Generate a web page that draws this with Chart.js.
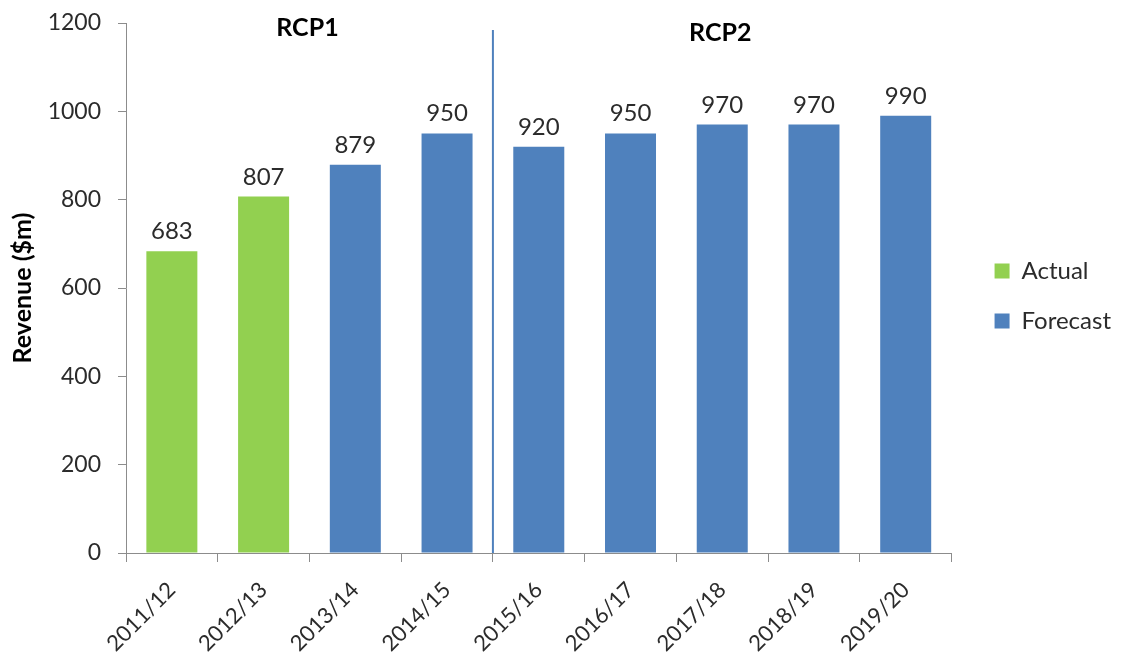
<!DOCTYPE html>
<html>
<head>
<meta charset="utf-8">
<script src="https://cdn.jsdelivr.net/npm/chart.js@4"></script>
<style>
  html, body { margin: 0; padding: 0; background: #fff; }
  #wrap { width: 1121px; height: 656px; position: relative; }
</style>
</head>
<body>
<div id="wrap"><canvas id="chart"></canvas></div>
<script>
// Financial years shown on the category axis
const categories = ['2011/12', '2012/13', '2013/14', '2014/15', '2015/16', '2016/17', '2017/18', '2018/19', '2019/20'];
// Revenue in $m: recorded results and forecast figures
const actualValues   = [683, 807, null, null, null, null, null, null, null];
const forecastValues = [null, null, 879, 950, 920, 950, 970, 970, 990];
// Value axis range and tick step
const yMin = 0;
const yMax = 1200;
const yStep = 200;
// Regulatory control periods: name and index of first year in each
const periodNames = ['RCP1', 'RCP2'];
const periodStarts = [0, 4];

const GREEN = '#92D050';
const BLUE = '#4F81BD';
const AXIS = '#8c8c8c';
const TEXT = '#2b2b2b';
const FONT = 'Lato, "Open Sans", sans-serif';

// Value labels above each bar
const valueLabels = {
  id: 'valueLabels',
  afterDatasetsDraw(chart) {
    const ctx = chart.ctx;
    ctx.save();
    ctx.fillStyle = TEXT;
    ctx.font = '24px ' + FONT;
    ctx.textAlign = 'center';
    ctx.textBaseline = 'alphabetic';
    chart.data.datasets.forEach((ds, di) => {
      const meta = chart.getDatasetMeta(di);
      meta.data.forEach((bar, i) => {
        const v = ds.data[i];
        if (v === null || v === undefined) return;
        ctx.fillText(String(v), bar.x, bar.y - 12);
      });
    });
    ctx.restore();
  }
};

// Divider between control periods and the period headings
const periods = {
  id: 'periods',
  afterDatasetsDraw(chart) {
    const ctx = chart.ctx;
    const x = chart.scales.x;
    const area = chart.chartArea;
    const half = (x.getPixelForValue(1) - x.getPixelForValue(0)) / 2;
    ctx.save();
    // divider lines at the start of each later period
    ctx.strokeStyle = BLUE;
    ctx.lineWidth = 2;
    for (let p = 1; p < periodStarts.length; p++) {
      const px = x.getPixelForValue(periodStarts[p]) - half;
      ctx.beginPath();
      ctx.moveTo(px, area.top + 7);
      ctx.lineTo(px, area.bottom);
      ctx.stroke();
    }
    // headings centred over each period
    ctx.fillStyle = '#000';
    ctx.font = 'bold 25px ' + FONT;
    ctx.textAlign = 'center';
    ctx.textBaseline = 'middle';
    const yOffsets = [5, 10];
    for (let p = 0; p < periodNames.length; p++) {
      const first = periodStarts[p];
      const last = p + 1 < periodStarts.length ? periodStarts[p + 1] - 1 : categories.length - 1;
      const left = x.getPixelForValue(first) - half;
      const right = x.getPixelForValue(last) + half;
      ctx.fillText(periodNames[p], (left + right) / 2 - 2, area.top + yOffsets[p]);
    }
    ctx.restore();
  }
};

new Chart(document.getElementById('chart'), {
  type: 'bar',
  data: {
    labels: categories,
    datasets: [
      { label: 'Actual', data: actualValues, backgroundColor: GREEN },
      { label: 'Forecast', data: forecastValues, backgroundColor: BLUE }
    ]
  },
  plugins: [valueLabels, periods],
  options: {
    responsive: true,
    maintainAspectRatio: false,
    animation: false,
    events: [],
    layout: { padding: { top: 23, left: 0, right: 0, bottom: 0 } },
    datasets: { bar: { categoryPercentage: 1.0, barPercentage: 0.556 } },
    plugins: {
      tooltip: { enabled: false },
      legend: {
        position: 'right',
        fullSize: false,
        title: { display: true, text: '', padding: 0, font: { size: 13, lineHeight: '16px' } },
        labels: {
          font: { family: FONT, size: 24 },
          color: TEXT,
          boxWidth: 15,
          boxHeight: 15,
          padding: 26
        }
      }
    },
    scales: {
      x: {
        stacked: true,
        grid: { display: true, drawOnChartArea: false, offset: true, color: AXIS, tickLength: 9 },
        border: { display: true, color: AXIS, width: 1 },
        ticks: {
          font: { family: FONT, size: 22 },
          color: TEXT,
          maxRotation: 45,
          minRotation: 45,
          autoSkip: false,
          padding: 15
        },
        afterFit(s) { s.height = 103; }
      },
      y: {
        stacked: true,
        min: yMin,
        max: yMax,
        grid: { display: true, drawOnChartArea: false, color: AXIS, tickLength: 8 },
        border: { display: true, color: AXIS, width: 1 },
        ticks: {
          stepSize: yStep,
          font: { family: FONT, size: 23 },
          color: TEXT,
          padding: 17,
          callback: (v) => String(v)
        },
        title: {
          display: true,
          text: 'Revenue ($m)',
          font: { family: FONT, size: 25, weight: 'bold' },
          color: '#000',
          padding: { top: 8, bottom: 0 }
        },
        afterFit(s) {
          s.width = 126;
          s.paddingTop = 0;
          s.paddingBottom = 0;
        }
      },
      gap: {
        position: 'right',
        display: true,
        grid: { display: false },
        border: { display: false },
        ticks: { display: false },
        afterFit(s) { s.width = 17; }
      }
    }
  }
});
</script>
</body>
</html>
